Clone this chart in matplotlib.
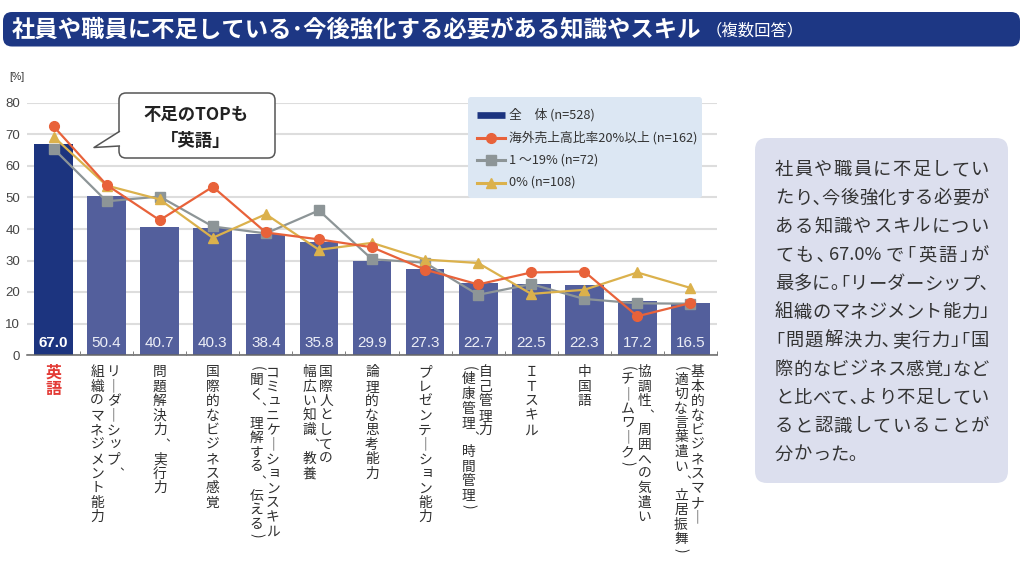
import numpy as np
import matplotlib
matplotlib.use("Agg")
import matplotlib.pyplot as plt
from matplotlib.patches import FancyBboxPatch, Polygon
from matplotlib.lines import Line2D
from matplotlib.transforms import Affine2D

plt.rcParams['font.family'] = ['Noto Sans CJK JP', 'DejaVu Sans']

# ---------------- data ----------------
categories = [
    ["英語"],
    ["リーダーシップ、", "組織のマネジメント能力"],
    ["問題解決力、実行力"],
    ["国際的なビジネス感覚"],
    ["コミュニケーションスキル", "(聞く、理解する、伝える)"],
    ["国際人としての", "幅広い知識、教養"],
    ["論理的な思考能力"],
    ["プレゼンテーション能力"],
    ["自己管理力", "(健康管理、時間管理)"],
    ["ＩＴスキル"],
    ["中国語"],
    ["協調性、周囲への気遣い", "(チームワーク)"],
    ["基本的なビジネスマナー", "(適切な言葉遣い、立居振舞)"],
]
total = [67.0, 50.4, 40.7, 40.3, 38.4, 35.8, 29.9, 27.3, 22.7, 22.5, 22.3, 17.2, 16.5]
over20 = [72.6, 54.0, 42.8, 53.4, 38.9, 36.7, 34.2, 27.1, 22.4, 26.2, 26.5, 12.3, 16.5]
mid = [65.5, 48.8, 50.3, 40.8, 38.6, 45.9, 30.4, 29.3, 19.1, 22.5, 17.8, 16.4, 16.3]
zero = [69.3, 53.8, 49.4, 37.2, 44.7, 33.4, 35.6, 30.3, 29.2, 19.4, 20.7, 26.2, 21.3]
legend_labels = ["全　体 (n=528)", "海外売上高比率20%以上 (n=162)", "1 ～19% (n=72)", "0% (n=108)"]
yticks = [0, 10, 20, 30, 40, 50, 60, 70, 80]

title_main = "社員や職員に不足している･今後強化する必要がある知識やスキル"
title_sub = "（複数回答）"
bubble_lines = ["不足のTOPも", "「英語」"]
side_lines = [
    "社員や職員に不足してい",
    "たり、今後強化する必要が",
    "ある知識やスキルについ",
    "ても、67.0%で「英語」が",
    "最多に。「リーダーシップ、",
    "組織のマネジメント能力」",
    "「問題解決力、実行力」「国",
    "際的なビジネス感覚」など",
    "と比べて、より不足してい",
    "ると認識していることが",
    "分かった。",
]

# ---------------- style ----------------
C_NAVY = "#1c347f"
C_BAR = "#535f9c"
C_OR = "#e8623a"
C_GR = "#8d9597"
C_YE = "#dbb14c"
C_TXT = "#333333"
NUM_FONT = ["Liberation Sans", "DejaVu Sans"]

W, H = 1024, 565
fig = plt.figure(figsize=(W / 100, H / 100), dpi=100)
renderer = fig.canvas.get_renderer()
# pixel transform (origin top-left)
T = Affine2D().scale(1 / 100, -1 / 100).translate(0, H / 100) + fig.dpi_scale_trans

ax_l, ax_r, ax_t, ax_b = 27, 717, 103, 355
ax = fig.add_axes([ax_l / W, 1 - ax_b / H, (ax_r - ax_l) / W, (ax_b - ax_t) / H])
x = np.arange(len(total))
colors = [C_NAVY] + [C_BAR] * (len(total) - 1)
ax.bar(x, total, width=0.73, color=colors, zorder=2)

lw = 1.6
ax.plot(x, mid, color=C_GR, lw=lw, marker="s", ms=6.5, zorder=3)
ax.plot(x, zero, color=C_YE, lw=lw, marker="^", ms=7.5, zorder=4)
ax.plot(x, over20, color=C_OR, lw=lw, marker="o", ms=7, zorder=5)

for i, v in enumerate(total):
    ax.text(i, 3.9, f"{v:.1f}", ha="center", va="center", color="white" if i == 0 else "#eceef7",
            fontsize=11, fontweight="bold" if i == 0 else "normal", family=NUM_FONT, zorder=6)

ax.set_xlim(-0.5, len(total) - 0.5)
ax.set_ylim(0, 80)
ax.set_yticks(yticks)
ax.set_yticklabels([str(t) for t in yticks], fontsize=9.5, color="#444444", family=NUM_FONT)
ax.tick_params(axis="y", which="major", length=0, pad=5)
ax.set_yticks([0], minor=True)
ax.tick_params(axis="y", which="minor", length=3, direction="out", color="#666666")
ax.set_xticks([])
ax.set_xticks(np.arange(0.5, len(total), 1.0), minor=True)
ax.tick_params(axis="x", which="minor", length=3, direction="in", color="#666666")
for s in ["top", "right", "left"]:
    ax.spines[s].set_visible(False)
ax.spines["bottom"].set_color("#666666")
ax.spines["bottom"].set_linewidth(1.1)
ax.spines["bottom"].set_zorder(7)
ax.yaxis.grid(True, color="#dddddd", lw=1.5)
ax.set_axisbelow(True)

fig.text(17, 77, "[%]", transform=T, fontsize=7.5, color=C_TXT, ha="center", va="center",
         family=NUM_FONT)

# ---------------- vertical category labels ----------------
vert_map = {"ー": "｜", "、": "︑"}
paren_v = set("()")
small_kana = set("ッュョャァィゥェォっゅょゃ")
slot = (ax_r - ax_l) / len(total)
for i, lines in enumerate(categories):
    cx = ax_l + slot * (i + 0.5)
    offs = [0] if len(lines) == 1 else [7, -9.5]
    is_top = (i == 0)
    pitch = 16 if is_top else 14.5
    fs = 11.5 if is_top else 9.9
    col = "#e33b36" if is_top else "#2e2e2e"
    fw = "bold" if is_top else "normal"
    for j, line in enumerate(lines):
        cur = 365.0
        for ch in line:
            xx = cx + offs[j]
            if ch in paren_v:
                adv = pitch / 2
                fig.text(xx, cur + adv / 2, ch, transform=T, ha="center", va="center", rotation=-90,
                         fontsize=fs, color=col, fontweight=fw)
                cur += adv
                continue
            adv = pitch
            cy = cur + adv / 2
            dx, dy = 0.0, 0.0
            f2 = fs
            if ch in small_kana:
                dx, dy = 1.5, -1.5
            elif ch == "、":
                dx, dy = 4.0, 0.5
                f2 = fs * 0.85
            fig.text(xx + dx, cy + dy, vert_map.get(ch, ch), transform=T, ha="center",
                     va="center", fontsize=f2, color=col, fontweight=fw)
            cur += adv

# ---------------- legend ----------------
fig.patches.append(FancyBboxPatch((468, 97), 234, 101, boxstyle="round,pad=0,rounding_size=3",
                                  transform=T, facecolor="#dce7f3", edgecolor="none", zorder=1))
leg_y = [115, 137.5, 160, 182.5]
lx0, lx1 = 477, 505
fig.lines.append(Line2D([lx0, lx1], [leg_y[0], leg_y[0]], transform=T, color=C_NAVY, lw=4.8,
                        solid_capstyle="butt", zorder=2))
for yy, c, m, ms in [(leg_y[1], C_OR, "o", 7), (leg_y[2], C_GR, "s", 6.5), (leg_y[3], C_YE, "^", 7.5)]:
    fig.lines.append(Line2D([lx0, lx1], [yy, yy], transform=T, color=c, lw=2.2, zorder=2))
    fig.lines.append(Line2D([(lx0 + lx1) / 2], [yy], transform=T, color=c, marker=m, ms=ms, zorder=3))
for yy, lab in zip(leg_y, legend_labels):
    fig.text(509, yy, lab, transform=T, ha="left", va="center", fontsize=9.2, color=C_TXT)

# ---------------- speech bubble ----------------
fig.patches.append(FancyBboxPatch((119, 93), 156, 65, boxstyle="round,pad=0,rounding_size=7",
                                  transform=T, facecolor="white", edgecolor="#555555", lw=1.1, zorder=8))
fig.patches.append(Polygon([[120.5, 131.5], [94, 147.5], [120.5, 146]], closed=True, transform=T,
                           facecolor="white", edgecolor="none", zorder=9))
fig.lines.append(Line2D([119.3, 94, 119.3], [131.5, 147.5, 146], transform=T, color="#555555", lw=1.1,
                        zorder=10))
fig.text(196, 115, bubble_lines[0], transform=T, ha="center", va="center", fontsize=12.5,
         fontweight="bold", color="#222222", zorder=11)
fig.text(196, 141, bubble_lines[1], transform=T, ha="center", va="center", fontsize=12.5,
         fontweight="bold", color="#222222", zorder=11)

# ---------------- title bar ----------------
fig.patches.append(FancyBboxPatch((3, 12), 1017, 34.5, boxstyle="round,pad=0,rounding_size=9",
                                  transform=T, facecolor="#1d3784", edgecolor="none", zorder=1))
fig.text(12, 30, title_main, transform=T, ha="left", va="center", fontsize=16.8, fontweight="bold",
         color="white", zorder=2)
fig.text(706, 31, title_sub, transform=T, ha="left", va="center", fontsize=11.8, color="white", zorder=2)

# ---------------- side note (justified, proportional punctuation) ----------------
fig.patches.append(FancyBboxPatch((755, 138), 253, 345, boxstyle="round,pad=0,rounding_size=12",
                                  transform=T, facecolor="#dcdfee", edgecolor="none", zorder=1))
em = 18.3
side_fs = em * 0.72
left_x, right_x = 775, 989
half_map = {"、": "､", "。": "｡", "「": "｢", "」": "｣"}


def tokens_of(line):
    toks = []
    buf = ""
    for ch in line:
        if ord(ch) < 128:
            buf += ch
            continue
        if buf:
            toks.append(("ascii", buf))
            buf = ""
        if ch in half_map:
            toks.append(("half", half_map[ch]))
        else:
            toks.append(("full", ch))
    if buf:
        toks.append(("ascii", buf))
    return toks


for k, line in enumerate(side_lines):
    yy = 170 + k * 28.5
    toks = tokens_of(line)
    widths = []
    for kind, s in toks:
        if kind == "full":
            widths.append(em)
        elif kind == "half":
            widths.append(em * 0.5)
        else:
            tt = fig.text(0, 0, s, fontsize=side_fs)
            widths.append(tt.get_window_extent(renderer).width + 3)
            tt.remove()
    nat = sum(widths)
    last = (k == len(side_lines) - 1)
    gap = 0.0 if last or len(toks) < 2 else max(0.0, (right_x - left_x - nat) / (len(toks) - 1))
    xx = left_x
    for (kind, s), w in zip(toks, widths):
        if kind == "ascii":
            fig.text(xx + 1.5, yy, s, transform=T, ha="left", va="center", fontsize=side_fs,
                     color=C_TXT, zorder=2)
        else:
            fig.text(xx + w / 2, yy, s, transform=T, ha="center", va="center", fontsize=side_fs,
                     color=C_TXT, zorder=2)
        xx += w + gap

fig.savefig("out.png", dpi=100)
